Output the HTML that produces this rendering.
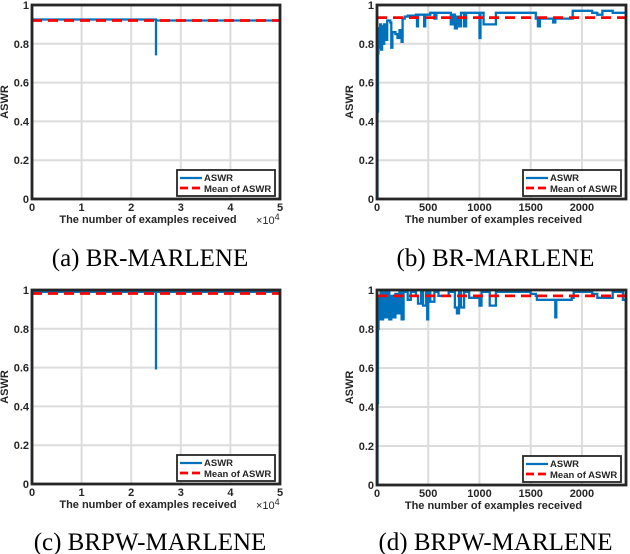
<!DOCTYPE html>
<html><head><meta charset="utf-8"><style>
body{margin:0;background:#fff;width:630px;height:554px;overflow:hidden}
svg{display:block}
.t{font-family:"Liberation Sans",sans-serif;font-weight:bold;font-size:11px;fill:#262626}
.cap{font-family:"Liberation Serif",serif;font-size:25px;fill:#000}
</style></head><body>
<svg id="c" width="630" height="554"></svg>
<script>
const aX=[0,0,25000,25000,25000,50000];
const aY=[0,0.925,0.925,0.74,0.92,0.92];
const aMean=0.92;
const bX=[0,5,10,15,20,30,40,50,60,70,80,100,130,140,150,180,200,220,240,250,270,300,380,390,400,450,460,470,520,560,580,700,720,740,760,780,800,820,850,870,990,1000,1010,1040,1150,1160,1500,1550,1570,1590,1700,1720,1740,1900,1910,2000,2100,2150,2200,2300,2430];
const bY=[0,0.45,0.75,0.88,0.78,0.9,0.77,0.89,0.8,0.9,0.82,0.92,0.91,0.78,0.86,0.85,0.83,0.87,0.81,0.93,0.94,0.945,0.95,0.89,0.95,0.95,0.89,0.95,0.96,0.93,0.96,0.96,0.9,0.95,0.88,0.94,0.89,0.96,0.89,0.96,0.96,0.83,0.96,0.9,0.9,0.96,0.96,0.93,0.89,0.93,0.93,0.91,0.93,0.93,0.97,0.97,0.96,0.95,0.97,0.96,0.97];
const bMean=0.935;
const cX=[0,0,25000,25000,25000,50000];
const cY=[0,0.99,0.99,0.59,0.99,0.99];
const cMean=0.982;
const dX=[0,5,10,15,25,35,45,60,80,100,120,140,160,180,200,220,240,260,300,330,380,400,430,450,480,490,500,520,560,600,700,760,780,800,820,850,900,1000,1020,1100,1160,1480,1500,1550,1560,1700,1740,1750,1800,1900,1920,2000,2100,2150,2300,2400,2430];
const dY=[0,0.42,0.8,0.97,0.85,0.99,0.85,0.99,0.86,0.99,0.85,0.97,0.86,0.98,0.88,0.99,0.85,0.99,0.95,0.99,0.97,0.93,0.99,0.92,0.99,0.85,0.99,0.94,0.99,0.97,0.99,0.91,0.88,0.99,0.91,0.99,0.96,0.92,0.99,0.92,0.99,0.99,0.98,0.97,0.95,0.95,0.86,0.95,0.95,0.96,0.99,0.99,0.98,0.96,0.99,0.95,0.99];
const dMean=0.97;
const yTicks=[0,0.2,0.4,0.6,0.8,1];
const yTickLabels=["0","0.2","0.4","0.6","0.8","1"];
const xTicksA=[0,10000,20000,30000,40000,50000];
const xTickLabelsA=["0","1","2","3","4","5"];
const xTicksB=[0,500,1000,1500,2000];
const xTickLabelsB=["0","500","1000","1500","2000"];
const NS="http://www.w3.org/2000/svg";
const svg=document.getElementById('c');
function mk(tag,at,par){const e=document.createElementNS(NS,tag);for(const k in at)e.setAttribute(k,at[k]);(par||svg).appendChild(e);return e;}
function panel(id,L,R,T,B,xmax,xs,ys,mean,xt,xtl,sci,cap,capY){
 const g=mk('g',{});
 
 
 const sx=v=>L+(R-L)*v/xmax, sy=v=>B-(B-T)*v;
 yTicks.forEach((v,i)=>{const l=mk('line',{x1:L,x2:R,y1:sy(v),y2:sy(v),stroke:'#dcdcdc','stroke-width':2},g);
  
  const t=mk('text',{x:L-3,y:sy(v)+4,'text-anchor':'end',class:'t'},g);t.textContent=yTickLabels[i];
  });
 xt.forEach((v,i)=>{const l=mk('line',{x1:sx(v),x2:sx(v),y1:T,y2:B,stroke:'#dcdcdc','stroke-width':2},g);
  
  const t=mk('text',{x:sx(v),y:B+12,'text-anchor':'middle',class:'t'},g);t.textContent=xtl[i];
  });
 let d='';xs.forEach((v,i)=>{d+=(i?(' H'+sx(v).toFixed(1)+' V'):'M'+sx(v).toFixed(1)+' ')+sy(ys[i]).toFixed(1);});
 const p=mk('path',{d:d,fill:'none',stroke:'#0072bd','stroke-width':2.3},g);
 
 const m=mk('line',{x1:L,x2:R,y1:sy(mean),y2:sy(mean),stroke:'#ff0000','stroke-width':2.8,'stroke-dasharray':'10,6'},g);
 
 const f=mk('rect',{x:L,y:T,width:R-L,height:B-T,fill:'none',stroke:'#262626','stroke-width':2.8},g);
 
 const yl=mk('text',{x:0,y:0,transform:`translate(${L-24},${(T+B)/2}) rotate(-90)`,'text-anchor':'middle',class:'t'},g);yl.textContent='ASWR';
 
 const xl=mk('text',{x:(L+R)/2-8,y:B+24,'text-anchor':'middle',class:'t'},g);xl.textContent='The number of examples received';
 
 if(sci){const s=mk('text',{x:R-24,y:B+25,class:'t',style:'font-weight:normal;font-size:11px'},g);s.innerHTML='×10<tspan dy="-4" style="font-size:9px">4</tspan>';
  }
 const lg=mk('g',{},g);
 const lx=R-103,ly=B-29;
 mk('rect',{x:lx,y:ly,width:98,height:26,fill:'#fff',stroke:'#262626','stroke-width':1.8},lg);
 mk('line',{x1:lx+3,x2:lx+25,y1:ly+8,y2:ly+8,stroke:'#0072bd','stroke-width':2.3},lg);
 mk('line',{x1:lx+3,x2:lx+25,y1:ly+18,y2:ly+18,stroke:'#ff0000','stroke-width':2.8,'stroke-dasharray':'8,4'},lg);
 const e1=mk('text',{x:lx+27,y:ly+11,class:'t',style:'font-size:9.5px'},lg);e1.textContent='ASWR';
 
 const e2=mk('text',{x:lx+27,y:ly+22,class:'t',style:'font-size:9.5px'},lg);e2.textContent='Mean of ASWR';
 
 const c=mk('text',{x:(L+R)/2-6,y:capY,'text-anchor':'middle',class:'cap'});c.textContent=cap;
 
}
panel('a',32,280,5,199,50000,aX,aY,aMean,xTicksA,xTickLabelsA,true,'(a) BR-MARLENE',266);
panel('b',377,626,5,199,2430,bX,bY,bMean,xTicksB,xTickLabelsB,false,'(b) BR-MARLENE',266);
panel('c',32,280,290,484,50000,cX,cY,cMean,xTicksA,xTickLabelsA,true,'(c) BRPW-MARLENE',550);
panel('d',377,626,290,485,2430,dX,dY,dMean,xTicksB,xTickLabelsB,false,'(d) BRPW-MARLENE',550);
</script>
</body></html>
